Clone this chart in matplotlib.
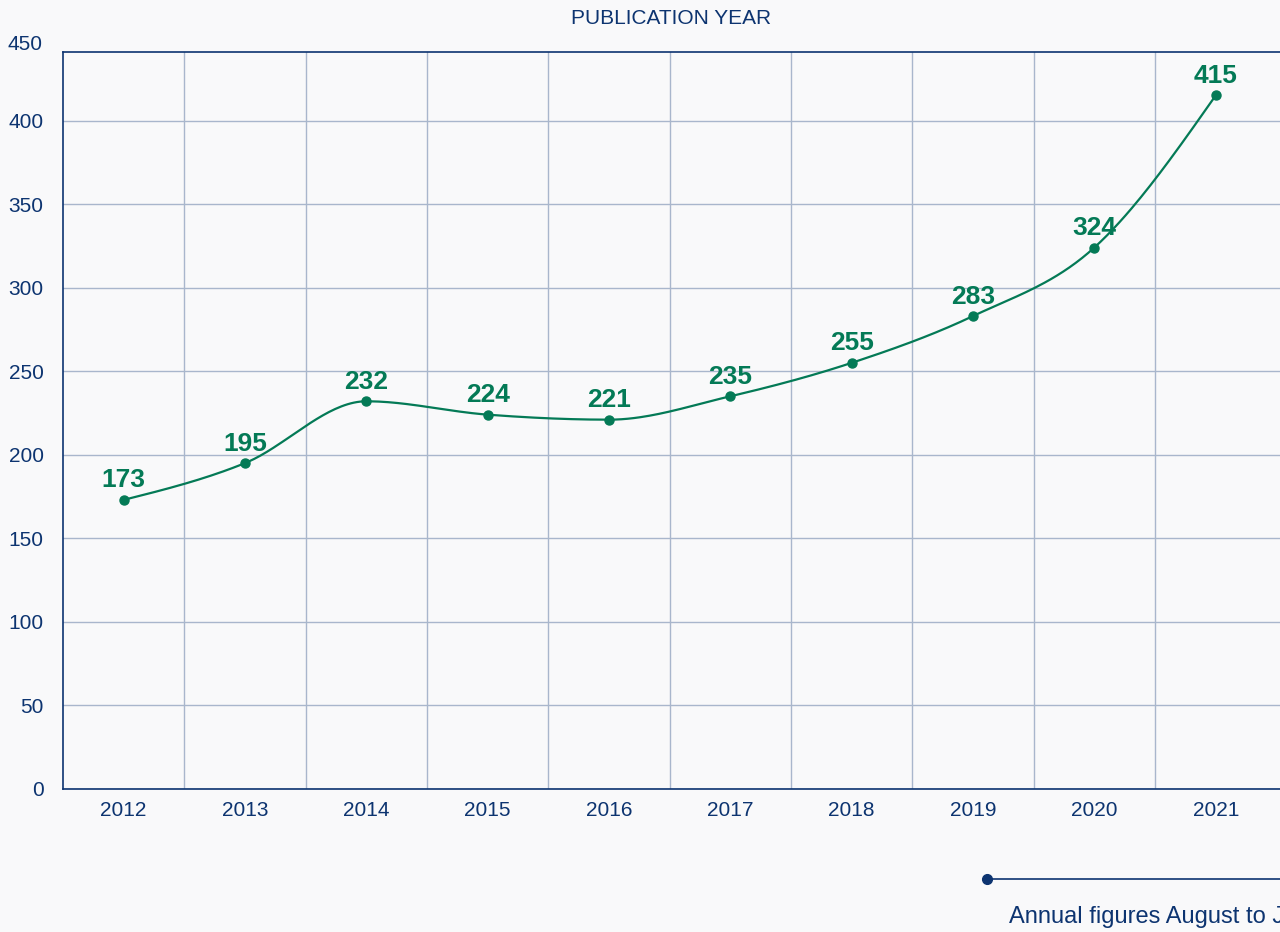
import numpy as np
import matplotlib.pyplot as plt

# data
years = ['2012', '2013', '2014', '2015', '2016', '2017', '2018', '2019', '2020', '2021']
publications = [173, 195, 232, 224, 221, 235, 255, 283, 324, 415]
y_ticks = [0, 50, 100, 150, 200, 250, 300, 350, 400, 450]

navy = '#0d3470'
green = '#047a56'
grid_color = '#a9b6cc'
bg = '#f9f9fa'


# monotone cubic curve (like d3 curveMonotoneX)
def monotone_curve(x, y, n=40):
    x = np.asarray(x, float)
    y = np.asarray(y, float)
    h = np.diff(x)
    s = np.diff(y) / h
    m = np.zeros_like(y)
    for i in range(1, len(x) - 1):
        p = (s[i - 1] * h[i] + s[i] * h[i - 1]) / (h[i - 1] + h[i])
        m[i] = (np.sign(s[i - 1]) + np.sign(s[i])) * min(abs(s[i - 1]), abs(s[i]), 0.5 * abs(p))
    m[0] = (3 * s[0] - m[1]) / 2
    m[-1] = (3 * s[-1] - m[-2]) / 2
    xs, ys = [], []
    for i in range(len(x) - 1):
        t = np.linspace(0, 1, n)
        h00 = 2 * t**3 - 3 * t**2 + 1
        h10 = t**3 - 2 * t**2 + t
        h01 = -2 * t**3 + 3 * t**2
        h11 = t**3 - t**2
        xs.append(x[i] + t * h[i])
        ys.append(h00 * y[i] + h10 * h[i] * m[i] + h01 * y[i + 1] + h11 * h[i] * m[i + 1])
    return np.concatenate(xs), np.concatenate(ys)


plt.rcParams['font.family'] = ['Liberation Sans', 'DejaVu Sans']

fig = plt.figure(figsize=(12.8, 9.32), dpi=100, facecolor=bg)
ax = fig.add_axes([63 / 1280, 1 - 789 / 932, 1 - 63 / 1280, (789 - 52) / 932])
ax.set_facecolor(bg)

x = np.arange(len(years))
cx, cy = monotone_curve(x, publications)
ax.plot(cx, cy, color=green, linewidth=1.6, zorder=3)
ax.plot(x, publications, 'o', color=green, markersize=6.5, zorder=4)

# value labels above points
for xi, v in zip(x, publications):
    ax.annotate(str(v), (xi, v), xytext=(0, 9), textcoords='offset points',
                ha='center', va='baseline', fontsize=19, fontweight='bold', color=green)

# axes limits and grid
ax.set_xlim(-0.5, 9.53)
ax.set_ylim(0, 441)
ax.set_xticks(x)
ax.set_xticklabels(years)
ax.set_xticks(x[:-1] + 0.5, minor=True)
ax.set_yticks(y_ticks[:-1])
ax.set_yticklabels([str(t) for t in y_ticks[:-1]])
ax.grid(which='minor', axis='x', color=grid_color, linewidth=1)
ax.grid(which='major', axis='y', color=grid_color, linewidth=1)
ax.set_axisbelow(True)
ax.tick_params(axis='both', which='both', length=0, colors=navy, labelsize=15)
ax.tick_params(axis='x', pad=8.5)
ax.tick_params(axis='y', pad=14)

# top label sits just above the frame, like the reference
ax.text(-20 / 1217, 1 + 7 / 737, str(y_ticks[-1]), transform=ax.transAxes,
        ha='right', va='center', fontsize=15, color=navy)

for side in ['left', 'top', 'bottom']:
    ax.spines[side].set_color(navy)
    ax.spines[side].set_linewidth(1.2)
ax.spines['right'].set_visible(False)

fig.text(671 / 1280, 1 - 19 / 932, 'PUBLICATION YEAR', ha='center', va='center',
         fontsize=15, color=navy)

# bottom note (runs off the right edge as in the reference)
fig.add_artist(plt.Line2D([987 / 1280, 1.0], [1 - 879 / 932] * 2, color=navy,
                          linewidth=1.2, transform=fig.transFigure))
fig.add_artist(plt.Line2D([987 / 1280], [1 - 879 / 932], marker='o', markersize=7,
                          color=navy, transform=fig.transFigure))
fig.text(1009 / 1280, 1 - 917 / 932, 'Annual figures August to July', ha='left',
         va='center', fontsize=17, color=navy)

fig.savefig('out.png', dpi=100, facecolor=bg)
